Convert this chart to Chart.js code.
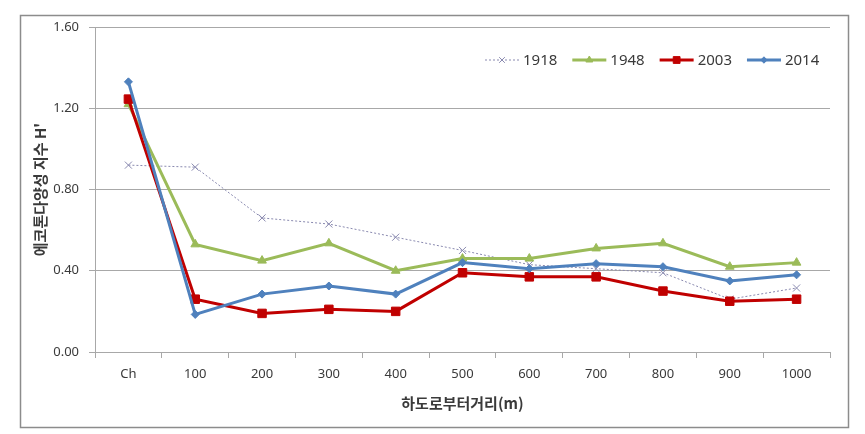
<!DOCTYPE html>
<html>
<head>
<meta charset="utf-8">
<script src="https://cdn.jsdelivr.net/npm/chart.js@4/dist/chart.umd.min.js"></script>
<style>
  html, body { margin: 0; padding: 0; background: #fff; }
  #wrap { width: 865px; height: 434px; }
</style>
</head>
<body>
<div id="wrap"><canvas id="ecotoneChart" width="865" height="434"></canvas></div>
<script>
// distance from the channel (x categories)
const distances = ['Ch', '100', '200', '300', '400', '500', '600', '700', '800', '900', '1000'];
const years = ['1918', '1948', '2003', '2014'];

// ecotone diversity index H' per year
const h1918 = [0.92, 0.91, 0.66, 0.63, 0.565, 0.50, 0.43, 0.41, 0.39, 0.26, 0.315];
const h1948 = [1.22, 0.53, 0.45, 0.535, 0.40, 0.46, 0.46, 0.51, 0.535, 0.42, 0.44];
const h2003 = [1.245, 0.26, 0.19, 0.21, 0.20, 0.39, 0.37, 0.37, 0.30, 0.25, 0.26];
const h2014 = [1.33, 0.185, 0.285, 0.325, 0.285, 0.44, 0.41, 0.435, 0.42, 0.35, 0.38];

const yTicks = [0, 0.4, 0.8, 1.2, 1.6];

const textColor = '#3a3a3a';
const gridColor = '#a8a8a8';

// outer frame + white background
const framePlugin = {
  id: 'frame',
  beforeDraw(chart) {
    const ctx = chart.ctx;
    ctx.save();
    ctx.fillStyle = '#fff';
    ctx.fillRect(0, 0, chart.width, chart.height);
    ctx.strokeStyle = '#8c8c8c';
    ctx.lineWidth = 1.5;
    ctx.strokeRect(20.5, 15.5, 828, 412);
    ctx.restore();
  }
};

// excel style legend: short line with the marker in the middle
const legendPlugin = {
  id: 'lineLegend',
  afterDraw(chart) {
    const ctx = chart.ctx;
    let x = 485;
    const y = 60;
    ctx.save();
    ctx.font = '15px "Noto Sans", sans-serif';
    ctx.textBaseline = 'middle';
    chart.data.datasets.forEach(ds => {
      ctx.strokeStyle = ds.borderColor;
      ctx.lineWidth = ds.borderWidth;
      ctx.setLineDash(ds.borderDash || []);
      ctx.beginPath();
      ctx.moveTo(x, y);
      ctx.lineTo(x + 34, y);
      ctx.stroke();
      ctx.setLineDash([]);
      ctx.fillStyle = ds.pointBackgroundColor;
      ctx.strokeStyle = ds.pointBorderColor;
      ctx.lineWidth = ds.pointBorderWidth;
      Chart.helpers.drawPoint(ctx, {
        pointStyle: ds.pointStyle,
        radius: ds.pointRadius * 0.8,
        borderWidth: ds.pointBorderWidth,
        rotation: 0
      }, x + 17, y);
      ctx.fillStyle = textColor;
      ctx.fillText(ds.label, x + 38, y + 1);
      x += 38 + ctx.measureText(ds.label).width + 15;
    });
    ctx.restore();
  }
};

const ctx = document.getElementById('ecotoneChart');
new Chart(ctx, {
  type: 'line',
  data: {
    labels: distances,
    datasets: [
      {
        label: years[0],
        data: h1918,
        borderColor: '#8a8ab0',
        borderWidth: 1,
        borderDash: [2, 2],
        pointStyle: 'crossRot',
        pointRadius: 5,
        pointBorderColor: '#8a8ab0',
        pointBackgroundColor: '#8a8ab0',
        pointBorderWidth: 1,
        order: 4
      },
      {
        label: years[1],
        data: h1948,
        borderColor: '#9bbb59',
        borderWidth: 3,
        pointStyle: 'triangle',
        pointRadius: 5,
        pointBorderColor: '#9bbb59',
        pointBackgroundColor: '#9bbb59',
        pointBorderWidth: 1,
        order: 3
      },
      {
        label: years[2],
        data: h2003,
        borderColor: '#c00000',
        borderWidth: 3,
        pointStyle: 'rect',
        pointRadius: 6,
        pointBorderColor: '#c00000',
        pointBackgroundColor: '#c00000',
        pointBorderWidth: 1,
        order: 2
      },
      {
        label: years[3],
        data: h2014,
        borderColor: '#4f81bd',
        borderWidth: 3,
        pointStyle: 'rectRot',
        pointRadius: 4,
        pointBorderColor: '#4f81bd',
        pointBackgroundColor: '#4f81bd',
        pointBorderWidth: 1,
        order: 1
      }
    ]
  },
  options: {
    responsive: false,
    animation: false,
    layout: { padding: { left: 20, right: 35, top: 27, bottom: 10 } },
    plugins: {
      legend: { display: false },
      tooltip: { enabled: false }
    },
    elements: { line: { tension: 0 } },
    scales: {
      x: {
        offset: true,
        afterFit(scale) { scale.height = 72; },
        grid: {
          offset: true,
          drawOnChartArea: false,
          drawTicks: true,
          tickLength: 6,
          color: gridColor
        },
        border: { display: true, color: gridColor },
        ticks: {
          color: textColor,
          padding: 8,
          font: { family: '"Noto Sans", sans-serif', size: 13 }
        },
        title: {
          display: true,
          text: '하도로부터거리(m)',
          color: textColor,
          padding: { top: 0, bottom: 12 },
          font: { family: '"Noto Sans CJK KR", sans-serif', size: 15, weight: 'bold' }
        }
      },
      y: {
        min: 0,
        max: 1.6,
        afterFit(scale) { scale.width = 75; },
        afterBuildTicks(scale) { scale.ticks = yTicks.map(v => ({ value: v })); },
        grid: { color: gridColor, tickLength: 6 },
        border: { display: true, color: gridColor },
        ticks: {
          color: textColor,
          padding: 10,
          font: { family: '"Noto Sans", sans-serif', size: 13 },
          callback: v => v.toFixed(2)
        },
        title: {
          display: true,
          text: "에코톤다양성 지수 H'",
          color: textColor,
          padding: { top: 11, bottom: 0 },
          font: { family: '"Noto Sans CJK KR", sans-serif', size: 15, weight: 'bold' }
        }
      }
    }
  },
  plugins: [framePlugin, legendPlugin]
});
</script>
</body>
</html>
